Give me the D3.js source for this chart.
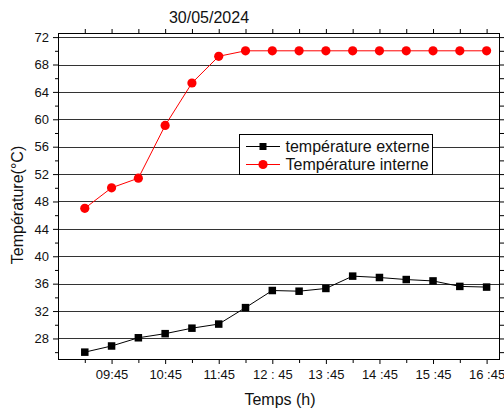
<!DOCTYPE html>
<html>
<head>
<meta charset="utf-8">
<script src="https://cdn.jsdelivr.net/npm/d3@7"></script>
<style>
  body { margin: 0; background: #fff; }
  svg { font-family: "Liberation Sans", Arial, sans-serif; }
</style>
</head>
<body>
<div id="chart"></div>
<script>
// time of each measurement, in hours (09:15 ... 16:45)
var hours = [9.25, 9.75, 10.25, 10.75, 11.25, 11.75, 12.25, 12.75,
             13.25, 13.75, 14.25, 14.75, 15.25, 15.75, 16.25, 16.75];
var tempExterne = [26.0, 26.9, 28.1, 28.7, 29.5, 30.1, 32.5, 35.0,
                   34.9, 35.3, 37.1, 36.9, 36.6, 36.4, 35.6, 35.5];
var tempInterne = [47.0, 50.0, 51.4, 59.1, 65.3, 69.2, 70.0, 70.0,
                   70.0, 70.0, 70.0, 70.0, 70.0, 70.0, 70.0, 70.0];
var xTickHours = [9.75, 10.75, 11.75, 12.75, 13.75, 14.75, 15.75, 16.75];
var xTickLabels = ["09:45", "10:45", "11:45", "12 : 45", "13 :45", "14 :45", "15 :45", "16 :45"];
var yMajor = [28, 32, 36, 40, 44, 48, 52, 56, 60, 64, 68, 72];
var yMinor = [26, 30, 34, 38, 42, 46, 50, 54, 58, 62, 66, 70];
var seriesNames = ["température externe", "Température interne"];

var W = 504, H = 410;
var margin = {top: 33, right: 4, bottom: 51, left: 58},
    width = W - margin.left - margin.right,
    height = H - margin.top - margin.bottom;

var svg = d3.select("#chart").append("svg")
    .attr("width", W)
    .attr("height", H);

var g = svg.append("g")
    .attr("transform", "translate(" + margin.left + "," + margin.top + ")");

var x = d3.scaleLinear().domain([8.75, 17.0]).range([0, width]);
var y = d3.scaleLinear().domain([25, 72.6]).range([height, 0]);

// horizontal grid lines
g.selectAll(".grid")
    .data(yMajor)
  .enter().append("line")
    .attr("class", "grid")
    .attr("x1", 0).attr("x2", width)
    .attr("y1", function(d) { return Math.round(y(d)) + 0.5; })
    .attr("y2", function(d) { return Math.round(y(d)) + 0.5; })
    .attr("stroke", "#333")
    .attr("stroke-width", 1);

// left axis (major + minor)
var yAxisL = d3.axisLeft(y).tickValues(yMajor).tickSize(5).tickPadding(4);
var gl = g.append("g").call(yAxisL);
gl.select(".domain").remove();
gl.selectAll("text").style("font-size", "13px").attr("fill", "#111");
g.append("g").call(d3.axisLeft(y).tickValues(yMinor).tickSize(3).tickFormat(""))
  .select(".domain").remove();

// right axis ticks
var gr = g.append("g").attr("transform", "translate(" + width + ",0)")
    .call(d3.axisRight(y).tickValues(yMajor.concat(yMinor)).tickSize(4).tickFormat(""));
gr.select(".domain").remove();

// bottom axis
var gb = g.append("g").attr("transform", "translate(0," + height + ")")
    .call(d3.axisBottom(x).tickValues(xTickHours).tickSize(5).tickPadding(6)
      .tickFormat(function(d, i) { return xTickLabels[i]; }));
gb.select(".domain").remove();
gb.selectAll("text").style("font-size", "13px").attr("fill", "#111");
g.append("g").attr("transform", "translate(0," + height + ")")
    .call(d3.axisBottom(x).tickValues(hours.filter(function(h) { return xTickHours.indexOf(h) < 0; }))
      .tickSize(4).tickFormat(""))
  .select(".domain").remove();

// top axis ticks
g.append("g")
    .call(d3.axisTop(x).tickValues(hours).tickSize(4).tickFormat(""))
  .select(".domain").remove();

// frame
g.append("rect")
    .attr("x", 0.5).attr("y", 0.5)
    .attr("width", width - 1).attr("height", height)
    .attr("fill", "none")
    .attr("stroke", "#000")
    .attr("stroke-width", 1);

var line = d3.line()
    .x(function(d, i) { return x(hours[i]); })
    .y(function(d) { return y(d); });

// externe series
g.append("path")
    .datum(tempExterne)
    .attr("d", line)
    .attr("fill", "none")
    .attr("stroke", "#000")
    .attr("stroke-width", 1);
g.selectAll(".sq")
    .data(tempExterne)
  .enter().append("rect")
    .attr("class", "sq")
    .attr("x", function(d, i) { return x(hours[i]) - 3.75; })
    .attr("y", function(d) { return y(d) - 3.75; })
    .attr("width", 7.5).attr("height", 7.5)
    .attr("fill", "#000");

// interne series
g.append("path")
    .datum(tempInterne)
    .attr("d", line)
    .attr("fill", "none")
    .attr("stroke", "#ff0000")
    .attr("stroke-width", 1);
g.selectAll(".dot")
    .data(tempInterne)
  .enter().append("circle")
    .attr("class", "dot")
    .attr("cx", function(d, i) { return x(hours[i]); })
    .attr("cy", function(d) { return y(d); })
    .attr("r", 4.6)
    .attr("fill", "#ff0000");

// legend
var lg = svg.append("g").attr("transform", "translate(239,134)");
lg.append("rect")
    .attr("x", 0.5).attr("y", 0.5)
    .attr("width", 193).attr("height", 40)
    .attr("fill", "#fff")
    .attr("stroke", "#000");
seriesNames.forEach(function(name, i) {
  var ry = 12.5 + i * 18;
  var col = i == 0 ? "#000" : "#ff0000";
  lg.append("line")
      .attr("x1", 7).attr("x2", 41)
      .attr("y1", ry).attr("y2", ry)
      .attr("stroke", col);
  if (i == 0) {
    lg.append("rect").attr("x", 24 - 3.5).attr("y", ry - 3.5)
        .attr("width", 7).attr("height", 7).attr("fill", col);
  } else {
    lg.append("circle").attr("cx", 24).attr("cy", ry).attr("r", 4.6).attr("fill", col);
  }
  lg.append("text")
      .attr("x", 46.5).attr("y", ry + 5.5)
      .style("font-size", "16px")
      .attr("fill", "#111")
      .text(name);
});

// titles
svg.append("text")
    .attr("x", 209).attr("y", 23)
    .attr("text-anchor", "middle")
    .style("font-size", "16px")
    .attr("fill", "#111")
    .text("30/05/2024");

svg.append("text")
    .attr("x", 280).attr("y", 405)
    .attr("text-anchor", "middle")
    .style("font-size", "16px")
    .attr("fill", "#111")
    .text("Temps (h)");

svg.append("text")
    .attr("transform", "translate(23,205) rotate(-90)")
    .attr("text-anchor", "middle")
    .style("font-size", "16px")
    .attr("fill", "#111")
    .text("Température(°C)");
</script>
</body>
</html>
